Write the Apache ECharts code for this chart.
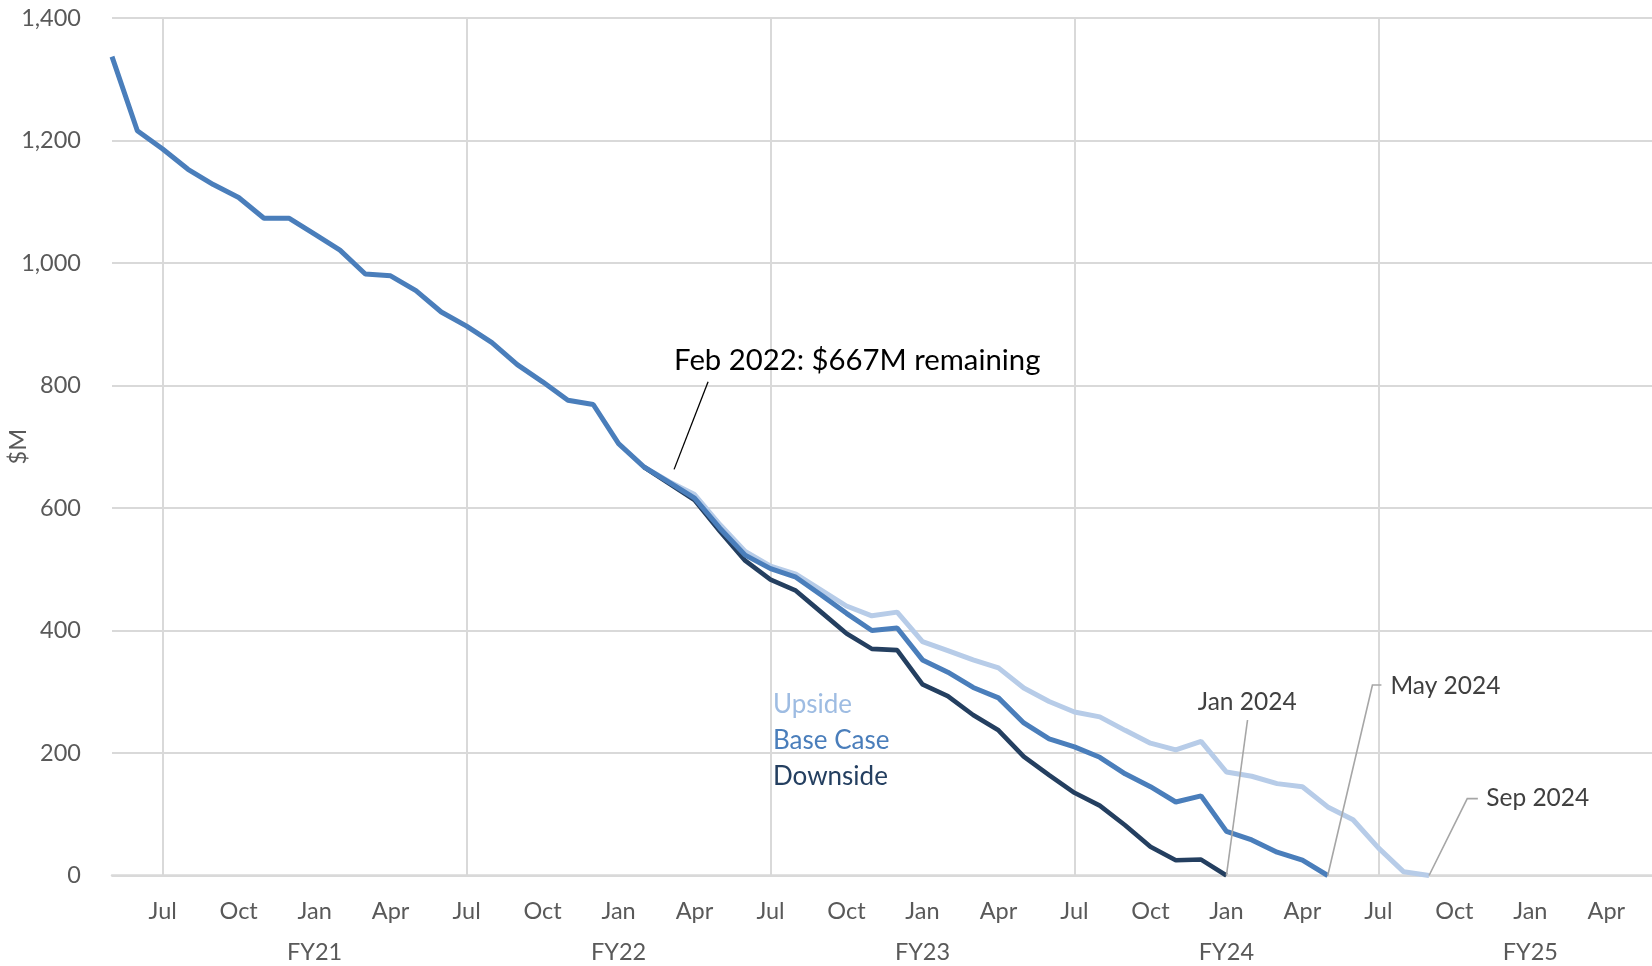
<!DOCTYPE html>
<html>
<head>
<meta charset="utf-8">
<script src="https://cdn.jsdelivr.net/npm/echarts@6/dist/echarts.min.js"></script>
<style>
  html, body { margin: 0; padding: 0; background: #ffffff; overflow: hidden; }
  #chart { width: 1660px; height: 966px; }
</style>
</head>
<body>
<div id="chart"></div>
<script>
// ---------------- data ----------------
const categories = [
  'May 2020','Jun 2020','Jul 2020','Aug 2020','Sep 2020','Oct 2020','Nov 2020','Dec 2020',
  'Jan 2021','Feb 2021','Mar 2021','Apr 2021','May 2021','Jun 2021','Jul 2021','Aug 2021',
  'Sep 2021','Oct 2021','Nov 2021','Dec 2021','Jan 2022','Feb 2022','Mar 2022','Apr 2022',
  'May 2022','Jun 2022','Jul 2022','Aug 2022','Sep 2022','Oct 2022','Nov 2022','Dec 2022',
  'Jan 2023','Feb 2023','Mar 2023','Apr 2023','May 2023','Jun 2023','Jul 2023','Aug 2023',
  'Sep 2023','Oct 2023','Nov 2023','Dec 2023','Jan 2024','Feb 2024','Mar 2024','Apr 2024',
  'May 2024','Jun 2024','Jul 2024','Aug 2024','Sep 2024','Oct 2024','Nov 2024','Dec 2024',
  'Jan 2025','Feb 2025','Mar 2025','Apr 2025','May 2025','Jun 2025'
];
const monthTickLabels = ['Jul', 'Oct', 'Jan', 'Apr'];
const fiscalYearLabels = ['FY21', 'FY22', 'FY23', 'FY24', 'FY25'];
const fiscalYearCentres = ['Jan 2021', 'Jan 2022', 'Jan 2023', 'Jan 2024', 'Jan 2025'];
const yTicks = [0, 200, 400, 600, 800, 1000, 1200, 1400];

// Base Case: May 2020 .. May 2024
const baseCase = [
  1337, 1216, 1186, 1153, 1128, 1107, 1073, 1073, 1047, 1021, 982, 979,
  955, 920, 897, 870, 834, 806, 776, 769, 705, 667, 642, 616,
  567, 523, 501, 487, 458, 428, 400, 404, 352, 332, 307, 290,
  249, 223, 210, 193, 166, 145, 120, 130, 72, 58, 38, 25, 0
];
// Upside: Feb 2022 .. Sep 2024
const upsideStart = 'Feb 2022';
const upside = [
  667, 643, 622, 573, 529, 505, 492, 466, 440, 424, 430, 382,
  367, 352, 339, 306, 284, 267, 259, 237, 216, 205, 219, 169,
  162, 150, 145, 112, 91, 45, 6, 0
];
// Downside: Feb 2022 .. Jan 2024
const downsideStart = 'Feb 2022';
const downside = [
  667, 640, 613, 562, 514, 483, 465, 430, 395, 370, 368, 312,
  293, 262, 237, 194, 164, 135, 114, 82, 47, 25, 26, 0
];
const seriesNames = ['Upside', 'Base Case', 'Downside'];

const calloutLabels = ['Feb 2022: $667M remaining', 'Jan 2024', 'May 2024', 'Sep 2024'];
const calloutPoints = [['Feb 2022', 667], ['Jan 2024', 0], ['May 2024', 0], ['Sep 2024', 0]];

// ---------------- helpers ----------------
function padSeries(startName, values) {
  const out = new Array(categories.length).fill(null);
  const s = categories.indexOf(startName);
  values.forEach((v, i) => { out[s + i] = v; });
  return out;
}

const colors = { up: '#b7cce8', base: '#4a7ebb', down: '#243f60' };
const FONT = 'Lato';
const GRAY = '#595959';

const chart = echarts.init(document.getElementById('chart'), null, { renderer: 'canvas' });

const option = {
  animation: false,
  backgroundColor: '#ffffff',
  textStyle: { fontFamily: FONT },
  grid: { left: 112, top: 18, width: 1545, height: 857.5, containLabel: false, outerBoundsMode: 'none' },
  legend: {
    orient: 'vertical',
    left: 768,
    top: 690,
    padding: 0,
    icon: 'none',
    itemWidth: 0,
    itemHeight: 30,
    itemGap: 5.8,
    selectedMode: false,
    textStyle: { fontFamily: FONT, fontSize: 26, lineHeight: 30 },
    data: [
      { name: seriesNames[0], textStyle: { color: '#9ebce2' } },
      { name: seriesNames[1], textStyle: { color: colors.base } },
      { name: seriesNames[2], textStyle: { color: colors.down } }
    ]
  },
  xAxis: [
    {
      type: 'category',
      data: categories,
      boundaryGap: false,
      axisLine: { show: true, lineStyle: { color: '#d9d9d9', width: 2.5 } },
      axisTick: { show: false },
      axisLabel: {
        interval: (i, v) => monthTickLabels.indexOf(v.slice(0, 3)) >= 0,
        formatter: (v) => v.slice(0, 3),
        color: GRAY, fontFamily: FONT, fontSize: 23.5, margin: 24
      },
      splitLine: {
        show: true,
        interval: (i, v) => v.slice(0, 3) === 'Jul',
        lineStyle: { color: '#d9d9d9', width: 2 }
      }
    },
    {
      type: 'category',
      data: categories,
      boundaryGap: false,
      position: 'bottom',
      offset: 41,
      axisLine: { show: false },
      axisTick: { show: false },
      splitLine: { show: false },
      axisLabel: {
        interval: (i, v) => fiscalYearCentres.indexOf(v) >= 0,
        formatter: (v) => fiscalYearLabels[fiscalYearCentres.indexOf(v)],
        color: GRAY, fontFamily: FONT, fontSize: 23.5, margin: 24
      }
    }
  ],
  yAxis: {
    type: 'value',
    min: yTicks[0],
    max: yTicks[yTicks.length - 1],
    interval: 200,
    name: '$M',
    nameLocation: 'middle',
    nameRotate: 90,
    nameGap: 94,
    nameMoveOverlap: false,
    nameTextStyle: { color: GRAY, fontFamily: FONT, fontSize: 23.5, verticalAlign: 'middle' },
    axisLine: { show: false },
    axisTick: { show: false },
    axisLabel: {
      color: GRAY, fontFamily: FONT, fontSize: 23.5, margin: 31,
      formatter: (v) => v.toLocaleString('en-US')
    },
    splitLine: { show: true, lineStyle: { color: '#d9d9d9', width: 2 } }
  },
  // drawing order: Upside, Downside, then Base Case on top
  series: [
    {
      name: seriesNames[0], type: 'line', data: padSeries(upsideStart, upside),
      symbol: 'none', connectNulls: false,
      lineStyle: { color: colors.up, width: 5 }, itemStyle: { color: colors.up }
    },
    {
      name: seriesNames[2], type: 'line', data: padSeries(downsideStart, downside),
      symbol: 'none', connectNulls: false,
      lineStyle: { color: colors.down, width: 4.6 }, itemStyle: { color: colors.down }
    },
    {
      name: seriesNames[1], type: 'line', data: padSeries(categories[0], baseCase),
      symbol: 'none', connectNulls: false,
      lineStyle: { color: colors.base, width: 5 }, itemStyle: { color: colors.base }
    }
  ]
};
chart.setOption(option);

// ---------------- callouts anchored to data points ----------------
function px(name, value) {
  return chart.convertToPixel({ xAxisIndex: 0, yAxisIndex: 0 }, [categories.indexOf(name), value]);
}
const layouts = [
  { line: [[30.2, 2.4], [64.2, -85.2]], text: [30.2, -106.5], align: 'left', size: 29.3, color: '#000000', stroke: '#000000', lw: 1.3 },
  { line: [[0, 0], [21.1, -155.5]], text: [20.8, -173.8], align: 'center', size: 24.5, color: '#404040', stroke: '#a6a6a6', lw: 1.6 },
  { line: [[0, 0], [44.7, -190.5], [53.7, -190.5]], text: [62.7, -189], align: 'left', size: 24.5, color: '#404040', stroke: '#a6a6a6', lw: 1.6 },
  { line: [[0, 0], [38.2, -76.9], [48.8, -76.9]], text: [57.2, -77.9], align: 'left', size: 24.5, color: '#404040', stroke: '#a6a6a6', lw: 1.6 }
];
const graphics = [];
calloutPoints.forEach((p, i) => {
  const a = px(p[0], p[1]);
  const L = layouts[i];
  graphics.push({
    type: 'polyline', silent: true, z: 50,
    shape: { points: L.line.map(d => [a[0] + d[0], a[1] + d[1]]) },
    style: { stroke: L.stroke, lineWidth: L.lw, fill: null }
  });
  graphics.push({
    type: 'text', silent: true, z: 50,
    x: a[0] + L.text[0], y: a[1] + L.text[1],
    style: {
      text: calloutLabels[i], fill: L.color, font: L.size + 'px ' + FONT,
      align: L.align, verticalAlign: 'middle'
    }
  });
});
chart.setOption({ graphic: graphics });
</script>
</body>
</html>
